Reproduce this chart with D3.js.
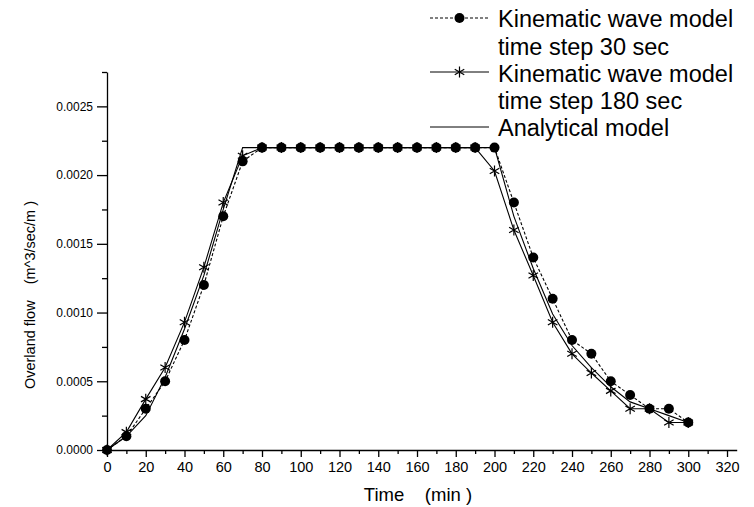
<!DOCTYPE html>
<html><head><meta charset="utf-8">
<script src="https://cdn.jsdelivr.net/npm/d3@7"></script>
<style>body{margin:0;background:#fff}svg{display:block}text{font-family:"Liberation Sans",Arial,sans-serif;fill:#000}</style>
</head><body>
<svg id="c" width="754" height="507"></svg>
<script>
// Data (time in minutes, flow in m^3/sec/m)
const timeSteps = [0,10,20,30,40,50,60,70,80,90,100,110,120,130,140,150,160,170,180,190,200,210,220,230,240,250,260,270,280,290,300];
const kw30 = [0,0.0001,0.0003,0.0005,0.0008,0.0012,0.0017,0.0021,0.0022,0.0022,0.0022,0.0022,0.0022,0.0022,0.0022,0.0022,0.0022,0.0022,0.0022,0.0022,0.0022,0.0018,0.0014,0.0011,0.0008,0.0007,0.0005,0.0004,0.0003,0.0003,0.0002];
const kw180 = [0,0.00013,0.00037,0.0006,0.00093,0.00133,0.0018,0.00214,0.0022,0.0022,0.0022,0.0022,0.0022,0.0022,0.0022,0.0022,0.0022,0.0022,0.0022,0.0022,0.00203,0.0016,0.00127,0.00093,0.0007,0.00056,0.00043,0.0003,0.0003,0.0002,0.0002];
const analyticalTime = [0,10,20,30,40,50,60,70,200,210,220,230,240,250,260,270,280,290,300];
const analytical = [0,0.0001,0.00025,0.00053,0.00088,0.00127,0.00175,0.0022,0.0022,0.0017,0.00132,0.00099,0.00076,0.0006,0.00046,0.00035,0.0003,0.00025,0.0002];
const xTicks = d3.range(0,321,20);
const xMinor = d3.range(10,321,20);
const yTicks = [0,0.0005,0.001,0.0015,0.002,0.0025];
const yMinor = [0.00025,0.00075,0.00125,0.00175,0.00225,0.00275];
const legendLabels = [["Kinematic wave model","time step 30 sec"],["Kinematic wave model","time step 180 sec"],["Analytical model"]];

const svg = d3.select("#c");
const x = d3.scaleLinear().domain([0,325]).range([107,736.7]);
const y = d3.scaleLinear().domain([0,0.00275]).range([450,72]);

// axes
const gx = svg.append("g").attr("transform","translate(0,450)");
gx.call(d3.axisBottom(x).tickValues(xTicks).tickFormat(d3.format("d")).tickSize(7).tickSizeOuter(0));
const gxm = svg.append("g").attr("transform","translate(0,450)");
gxm.call(d3.axisBottom(x).tickValues(xMinor).tickFormat("").tickSize(4).tickSizeOuter(0));
gxm.select(".domain").remove();
gx.selectAll("text").attr("font-size",14.5).attr("dy","0.72em").attr("y",12);
const gy = svg.append("g").attr("transform","translate(107,0)");
gy.call(d3.axisLeft(y).tickValues(yTicks).tickFormat(d3.format(".4f")).tickSize(10).tickSizeOuter(0));
const gym = svg.append("g").attr("transform","translate(107,0)");
gym.call(d3.axisLeft(y).tickValues(yMinor).tickFormat("").tickSize(5).tickSizeOuter(0));
gym.select(".domain").remove();
gy.selectAll("text").attr("font-size",12).attr("x",-14);
svg.selectAll(".domain, .tick line").attr("stroke","#000").attr("stroke-width",1.3);
svg.selectAll(".tick text").attr("font-family",null);

// axis titles
svg.append("text").attr("x",418).attr("y",501).attr("text-anchor","middle").attr("font-size",18.5)
  .style("white-space","pre").text("Time    (min )");
svg.append("text").attr("transform","translate(35,295) rotate(-90)").attr("text-anchor","middle").attr("font-size",14.5)
  .style("white-space","pre").text("Overland flow    (m^3/sec/m )");

// lines
const line = d3.line().x(d=>x(d[0])).y(d=>y(d[1]));
const d30 = timeSteps.map((t,i)=>[t,kw30[i]]);
const d180 = timeSteps.map((t,i)=>[t,kw180[i]]);
const dAn = analyticalTime.map((t,i)=>[t,analytical[i]]);
svg.append("path").attr("d",line(dAn)).attr("fill","none").attr("stroke","#000").attr("stroke-width",1.1);
svg.append("path").attr("d",line(d180)).attr("fill","none").attr("stroke","#000").attr("stroke-width",1.1);
svg.append("path").attr("d",line(d30)).attr("fill","none").attr("stroke","#000").attr("stroke-width",1.1).attr("stroke-dasharray","3,2");

function star(g,cx,cy,r){
  const p = [];
  for(const a of [90,30,-30]){
    const rad=a*Math.PI/180;
    p.push(`M${cx-r*Math.cos(rad)},${cy-r*Math.sin(rad)}L${cx+r*Math.cos(rad)},${cy+r*Math.sin(rad)}`);
  }
  g.append("path").attr("d",p.join("")).attr("stroke","#000").attr("stroke-width",1.2).attr("fill","none");
}
const gs = svg.append("g");
d180.forEach(d=>star(gs,x(d[0]),y(d[1]),5.5));
svg.append("g").selectAll("circle").data(d30).join("circle")
  .attr("cx",d=>x(d[0])).attr("cy",d=>y(d[1])).attr("r",5).attr("fill","#000");

// legend
const lg = svg.append("g");
const lx0=430, lx1=489, tx=498;
lg.append("line").attr("x1",lx0).attr("x2",lx1).attr("y1",18).attr("y2",18).attr("stroke","#000").attr("stroke-dasharray","3,2");
lg.append("circle").attr("cx",(lx0+lx1)/2).attr("cy",18).attr("r",5).attr("fill","#000");
lg.append("line").attr("x1",lx0).attr("x2",lx1).attr("y1",72).attr("y2",72).attr("stroke","#000");
star(lg,(lx0+lx1)/2,72,5.5);
lg.append("line").attr("x1",lx0).attr("x2",lx1).attr("y1",127).attr("y2",127).attr("stroke","#000");
const base=[27,54.5,81.5,109,136];
const flat=[legendLabels[0][0],legendLabels[0][1],legendLabels[1][0],legendLabels[1][1],legendLabels[2][0]];
flat.forEach((t,i)=>lg.append("text").attr("x",tx).attr("y",base[i]).attr("font-size",23.5).text(t));
</script>
</body></html>
